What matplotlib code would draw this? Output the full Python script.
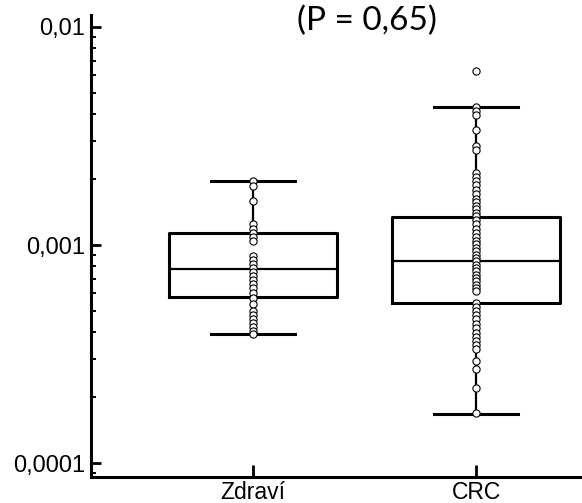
import matplotlib
matplotlib.use("Agg")
import matplotlib.pyplot as plt
from matplotlib.ticker import FixedLocator, LogLocator, NullFormatter

groups = ["Zdraví", "CRC"]

# individual measurements per group
zdravi_values = [
    0.00197, 0.001873, 0.001599, 0.001243, 0.001180, 0.001132, 0.001085, 0.001040,
    0.000889, 0.000852, 0.000817, 0.000783, 0.000751, 0.000720, 0.000690, 0.000662,
    0.000635, 0.000602, 0.000571, 0.000537, 0.000499, 0.000478, 0.000459, 0.000440,
    0.000422, 0.000404, 0.000392,
]
crc_values = [
    0.006266, 0.004294, 0.004118, 0.003948, 0.003373, 0.002851, 0.002733,
    0.002147, 0.002059, 0.001974, 0.001893, 0.001796, 0.001722, 0.001634, 0.001567,
    0.001502, 0.001456, 0.001396, 0.001353, 0.001297, 0.001243, 0.001180, 0.001132,
    0.001085, 0.001040, 0.001008, 0.000966, 0.000937, 0.000898, 0.000870, 0.000843,
    0.000808, 0.000783, 0.000759, 0.000728, 0.000705, 0.000683, 0.000655, 0.000635,
    0.000615, 0.000542, 0.000520, 0.000499, 0.000478, 0.000459, 0.000435, 0.000417,
    0.000396, 0.000380, 0.000364, 0.000349, 0.000335, 0.000295, 0.000271, 0.000220,
    0.000169,
]

# box summary statistics per group
q1 = [0.000577, 0.000540]
median = [0.000775, 0.000843]
q3 = [0.001132, 0.001350]
whisker_low = [0.000390, 0.000168]
whisker_high = [0.00197, 0.004294]

y_ticks = [0.0001, 0.001, 0.01]
y_tick_labels = ["0,0001", "0,001", "0,01"]
title_text = "(P = 0,65)"

fig = plt.figure(figsize=(5.82, 5.03), dpi=100)
ax = fig.add_axes([91 / 582, 26 / 503, 491 / 582, 462 / 503])

stats = []
for i, name in enumerate(groups):
    stats.append(dict(label=name, q1=q1[i], med=median[i], q3=q3[i],
                      whislo=whisker_low[i], whishi=whisker_high[i], fliers=[]))

positions = [1, 2]
ax.bxp(stats, positions=positions, widths=0.75, capwidths=0.375,
       showfliers=False, patch_artist=False,
       boxprops=dict(color="black", linewidth=2.2),
       medianprops=dict(color="black", linewidth=1.6),
       whiskerprops=dict(color="black", linewidth=1.6),
       capprops=dict(color="black", linewidth=2.2))

for pos, vals in zip(positions, [zdravi_values, crc_values]):
    ax.plot([pos] * len(vals), vals, linestyle="none", marker="o",
            markersize=5.2, markerfacecolor="white", markeredgecolor="black",
            markeredgewidth=0.8, zorder=5, clip_on=False)

ax.set_yscale("log")
ax.set_ylim(10 ** -4.064, 10 ** -1.945)
ax.set_xlim(0.274, 2.475)

ax.yaxis.set_major_locator(FixedLocator(y_ticks))
ax.set_yticklabels(y_tick_labels)
ax.yaxis.set_minor_locator(LogLocator(base=10, subs=range(2, 10)))
ax.yaxis.set_minor_formatter(NullFormatter())
ax.set_xticks(positions)
ax.set_xticklabels(groups)

for s in ["top", "right"]:
    ax.spines[s].set_visible(False)
for s in ["left", "bottom"]:
    ax.spines[s].set_linewidth(2.2)

ax.tick_params(axis="y", which="major", direction="in", length=7.5, width=2.0,
               labelsize=17, pad=4)
ax.tick_params(axis="y", which="minor", direction="in", length=3.8, width=1.4)
ax.tick_params(axis="x", which="major", direction="in", length=9, width=2.0,
               labelsize=16.5, pad=3)
for lab in ax.get_xticklabels() + ax.get_yticklabels():
    lab.set_family(["Liberation Sans", "DejaVu Sans"])

fig.text(367 / 582, 1 - 21 / 503, title_text, ha="center", va="center",
         fontsize=24, family=["Lato", "DejaVu Sans"])

fig.savefig("out.png", dpi=100)
